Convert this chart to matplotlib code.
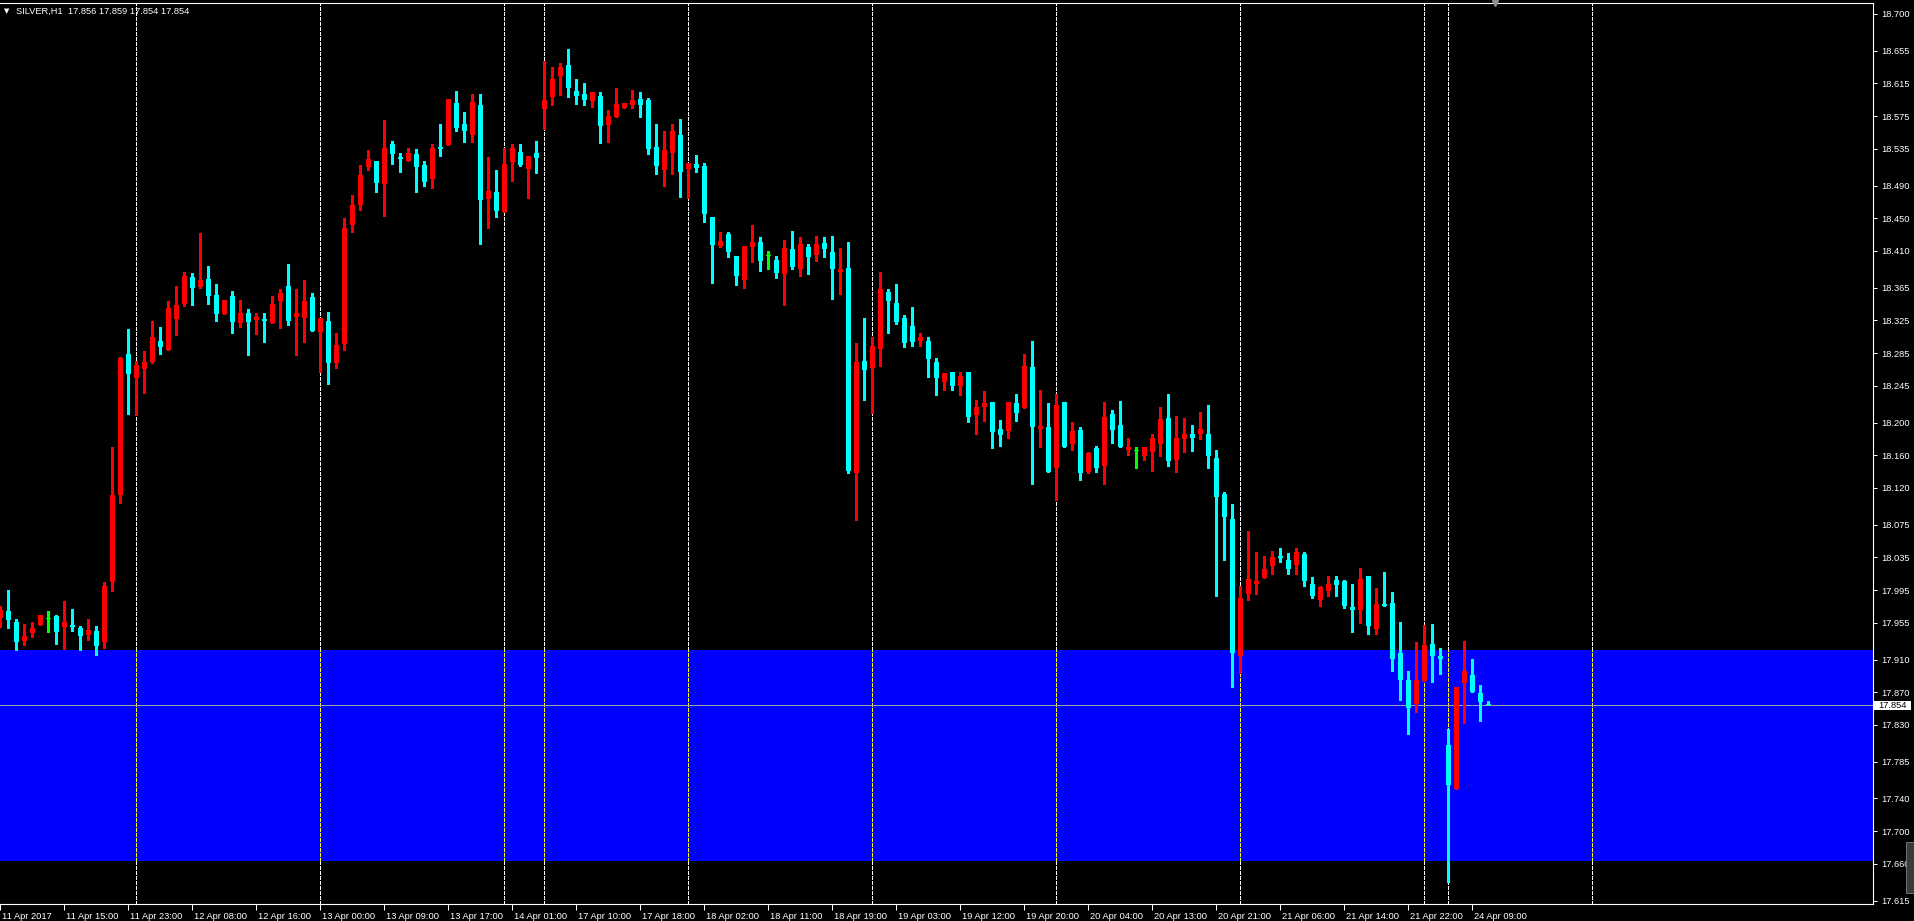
import matplotlib.pyplot as plt
from matplotlib.patches import Rectangle
import matplotlib.transforms as mtransforms
import numpy as np

plt.rcParams['font.family'] = ['Liberation Sans', 'DejaVu Sans']
FS = 6.7

symbol = "SILVER,H1"

# hourly OHLC, bar 0 = 11 Apr 2017 07:00
opens = [
    17.961, 17.969, 17.956, 17.933, 17.943, 17.952, 17.960, 17.963, 17.950, 17.952,
    17.949, 17.940, 17.945, 17.932, 18.005, 18.111, 18.284, 18.255, 18.266, 18.274,
    18.300, 18.289, 18.327, 18.345, 18.378, 18.366, 18.376, 18.356, 18.333, 18.355,
    18.322, 18.334, 18.326, 18.327, 18.322, 18.349, 18.367, 18.329, 18.328, 18.354,
    18.311, 18.324, 18.273, 18.296, 18.442, 18.466, 18.513, 18.520, 18.492, 18.541,
    18.525, 18.520, 18.529, 18.515, 18.498, 18.537, 18.540, 18.591, 18.565, 18.552,
    18.589, 18.474, 18.482, 18.458, 18.519, 18.531, 18.510, 18.530, 18.584, 18.598,
    18.624, 18.638, 18.606, 18.602, 18.594, 18.600, 18.564, 18.574, 18.585, 18.589,
    18.596, 18.595, 18.537, 18.509, 18.530, 18.552, 18.510, 18.516, 18.514, 18.452,
    18.416, 18.431, 18.404, 18.374, 18.415, 18.421, 18.404, 18.399, 18.382, 18.412,
    18.388, 18.415, 18.405, 18.420, 18.409, 18.384, 18.389, 18.138, 18.275, 18.267,
    18.290, 18.360, 18.346, 18.328, 18.318, 18.300, 18.300, 18.274, 18.250, 18.262,
    18.245, 18.262, 18.209, 18.219, 18.225, 18.192, 18.190, 18.224, 18.218, 18.268,
    18.192, 18.195, 18.144, 18.225, 18.174, 18.191, 18.139, 18.169, 18.147, 18.210,
    18.197, 18.166, 18.165, 18.159, 18.164, 18.174, 18.206, 18.154, 18.180, 18.186,
    18.186, 18.186, 18.157, 18.113, 18.082, 17.914, 17.990, 18.002, 18.010, 18.024,
    18.037, 18.032, 18.026, 18.039, 18.002, 17.983, 17.994, 18.007, 18.006, 17.974,
    17.971, 18.012, 17.947, 17.978, 17.979, 17.918, 17.885, 17.856, 17.884, 17.929,
    17.914, 17.805, 17.752, 17.881, 17.891, 17.869, 17.856]
highs = [
    17.975, 17.995, 17.960, 17.954, 17.956, 17.965, 17.969, 17.965, 17.982, 17.972,
    17.951, 17.960, 17.951, 18.005, 18.170, 18.280, 18.315, 18.275, 18.288, 18.324,
    18.317, 18.349, 18.367, 18.384, 18.383, 18.432, 18.392, 18.370, 18.350, 18.361,
    18.350, 18.339, 18.334, 18.334, 18.355, 18.363, 18.394, 18.363, 18.374, 18.358,
    18.328, 18.335, 18.310, 18.450, 18.478, 18.515, 18.534, 18.520, 18.570, 18.545,
    18.530, 18.536, 18.535, 18.520, 18.541, 18.565, 18.596, 18.606, 18.580, 18.602,
    18.602, 18.525, 18.509, 18.536, 18.541, 18.541, 18.526, 18.545, 18.642, 18.635,
    18.640, 18.657, 18.620, 18.616, 18.605, 18.605, 18.582, 18.609, 18.591, 18.607,
    18.605, 18.597, 18.565, 18.557, 18.565, 18.571, 18.518, 18.527, 18.518, 18.452,
    18.433, 18.433, 18.404, 18.416, 18.442, 18.427, 18.410, 18.404, 18.423, 18.434,
    18.427, 18.419, 18.428, 18.427, 18.428, 18.414, 18.421, 18.297, 18.328, 18.305,
    18.384, 18.363, 18.370, 18.332, 18.341, 18.310, 18.305, 18.279, 18.261, 18.262,
    18.262, 18.262, 18.228, 18.239, 18.225, 18.203, 18.225, 18.235, 18.284, 18.300,
    18.240, 18.224, 18.235, 18.225, 18.201, 18.195, 18.164, 18.171, 18.225, 18.215,
    18.226, 18.181, 18.170, 18.170, 18.186, 18.219, 18.235, 18.208, 18.206, 18.197,
    18.213, 18.222, 18.166, 18.115, 18.100, 18.000, 18.067, 18.042, 18.037, 18.043,
    18.046, 18.040, 18.046, 18.042, 18.011, 18.000, 18.012, 18.012, 18.007, 18.002,
    18.022, 18.012, 17.997, 18.017, 17.993, 17.956, 17.896, 17.932, 17.952, 17.954,
    17.924, 17.825, 17.877, 17.933, 17.911, 17.879, 17.859]
lows = [
    17.950, 17.949, 17.922, 17.928, 17.938, 17.952, 17.944, 17.929, 17.923, 17.945,
    17.922, 17.934, 17.916, 17.924, 17.994, 18.102, 18.210, 18.209, 18.236, 18.273,
    18.284, 18.289, 18.307, 18.343, 18.344, 18.365, 18.345, 18.324, 18.333, 18.310,
    18.317, 18.283, 18.308, 18.299, 18.322, 18.316, 18.319, 18.283, 18.299, 18.312,
    18.262, 18.247, 18.267, 18.289, 18.433, 18.460, 18.509, 18.482, 18.453, 18.517,
    18.507, 18.520, 18.482, 18.489, 18.487, 18.526, 18.540, 18.557, 18.543, 18.543,
    18.419, 18.438, 18.452, 18.458, 18.496, 18.514, 18.475, 18.505, 18.559, 18.589,
    18.601, 18.598, 18.590, 18.589, 18.586, 18.542, 18.543, 18.574, 18.585, 18.585,
    18.574, 18.529, 18.504, 18.489, 18.504, 18.476, 18.475, 18.507, 18.445, 18.371,
    18.415, 18.403, 18.368, 18.365, 18.396, 18.385, 18.388, 18.377, 18.344, 18.388,
    18.379, 18.382, 18.398, 18.403, 18.351, 18.357, 18.138, 18.081, 18.228, 18.212,
    18.269, 18.310, 18.321, 18.292, 18.294, 18.294, 18.256, 18.234, 18.240, 18.240,
    18.234, 18.201, 18.186, 18.202, 18.169, 18.171, 18.181, 18.202, 18.218, 18.125,
    18.170, 18.139, 18.105, 18.170, 18.167, 18.130, 18.138, 18.139, 18.125, 18.175,
    18.170, 18.160, 18.144, 18.154, 18.141, 18.159, 18.147, 18.139, 18.164, 18.165,
    18.180, 18.144, 17.988, 18.032, 17.876, 17.893, 17.983, 17.990, 18.010, 18.015,
    18.029, 18.015, 18.015, 18.000, 17.985, 17.975, 17.988, 17.988, 17.973, 17.944,
    17.955, 17.941, 17.941, 17.975, 17.896, 17.861, 17.819, 17.846, 17.884, 17.882,
    17.892, 17.638, 17.752, 17.832, 17.870, 17.835, 17.854]
closes = [
    17.971, 17.958, 17.932, 17.939, 17.949, 17.965, 17.960, 17.944, 17.956, 17.950,
    17.939, 17.946, 17.927, 18.000, 18.111, 18.279, 18.259, 18.270, 18.274, 18.305,
    18.293, 18.340, 18.344, 18.379, 18.365, 18.375, 18.355, 18.333, 18.350, 18.323,
    18.334, 18.323, 18.329, 18.324, 18.345, 18.358, 18.324, 18.334, 18.349, 18.312,
    18.328, 18.273, 18.295, 18.438, 18.466, 18.503, 18.523, 18.493, 18.536, 18.529,
    18.523, 18.530, 18.513, 18.494, 18.536, 18.535, 18.596, 18.560, 18.557, 18.592,
    18.472, 18.483, 18.459, 18.516, 18.536, 18.515, 18.526, 18.524, 18.595, 18.620,
    18.635, 18.609, 18.600, 18.595, 18.605, 18.563, 18.575, 18.590, 18.591, 18.595,
    18.589, 18.535, 18.514, 18.534, 18.557, 18.507, 18.518, 18.511, 18.455, 18.417,
    18.422, 18.409, 18.379, 18.416, 18.421, 18.398, 18.404, 18.383, 18.414, 18.390,
    18.419, 18.403, 18.419, 18.412, 18.388, 18.388, 18.141, 18.274, 18.264, 18.294,
    18.363, 18.349, 18.323, 18.297, 18.299, 18.305, 18.278, 18.254, 18.261, 18.245,
    18.257, 18.207, 18.219, 18.224, 18.189, 18.185, 18.225, 18.212, 18.269, 18.195,
    18.196, 18.139, 18.221, 18.170, 18.190, 18.138, 18.163, 18.144, 18.207, 18.191,
    18.170, 18.170, 18.165, 18.170, 18.181, 18.204, 18.153, 18.181, 18.186, 18.181,
    18.192, 18.159, 18.109, 18.084, 17.918, 17.985, 18.008, 18.006, 18.021, 18.035,
    18.034, 18.021, 18.042, 18.006, 17.988, 17.999, 18.002, 18.001, 17.975, 17.971,
    18.008, 17.951, 17.978, 17.975, 17.911, 17.885, 17.851, 17.885, 17.928, 17.914,
    17.911, 17.756, 17.877, 17.896, 17.870, 17.858, 17.854]

zone_top = 17.922
zone_bottom = 17.664

separator_bars = [17, 40, 63, 68, 86, 109, 132, 155, 178, 181, 199]

xtick_bars = [0, 8, 16, 24, 32, 40, 48, 56, 64, 72, 80, 88,
              96, 104, 112, 120, 128, 136, 144, 152, 160, 168, 176, 184]
xtick_labels = ["11 Apr 2017", "11 Apr 15:00", "11 Apr 23:00", "12 Apr 08:00",
                "12 Apr 16:00", "13 Apr 00:00", "13 Apr 09:00", "13 Apr 17:00",
                "14 Apr 01:00", "17 Apr 10:00", "17 Apr 18:00", "18 Apr 02:00",
                "18 Apr 11:00", "18 Apr 19:00", "19 Apr 03:00", "19 Apr 12:00",
                "19 Apr 20:00", "20 Apr 04:00", "20 Apr 13:00", "20 Apr 21:00",
                "21 Apr 06:00", "21 Apr 14:00", "21 Apr 22:00", "24 Apr 09:00"]

ytick_values = [18.700, 18.655, 18.615, 18.575, 18.535, 18.490, 18.450, 18.410,
                18.365, 18.325, 18.285, 18.245, 18.200, 18.160, 18.120, 18.075,
                18.035, 17.995, 17.955, 17.910, 17.870, 17.830, 17.785, 17.740,
                17.700, 17.660, 17.615]

W, H = 1915, 921
fig = plt.figure(figsize=(W / 100, H / 100), dpi=100, facecolor='black')
ax = fig.add_axes([0, 17 / H, 1873 / W, 901 / H])
ax.set_facecolor('black')

o = np.array(opens)
h = np.array(highs)
l = np.array(lows)
c = np.array(closes)
x = np.arange(len(o))

y_lo, y_hi = 17.6109, 18.7134
ax.set_xlim(-0.04, 234.1)
ax.set_ylim(y_lo, y_hi)

# zone rectangle
ax.axhspan(zone_bottom, zone_top, color='#0000ff', lw=0, zorder=0)

# day separators: white on black, yellow where they cross the blue zone
dash = (0, (2.9, 1.9))
ax.vlines(separator_bars, zone_top, y_hi, color='white', lw=0.75,
          linestyles=dash, zorder=1, antialiased=False)
ax.vlines(separator_bars, y_lo, zone_bottom, color='white', lw=0.75,
          linestyles=dash, zorder=1, antialiased=False)
ax.vlines(separator_bars, zone_bottom, zone_top, color='yellow', lw=0.75,
          linestyles=dash, zorder=1, antialiased=False)

# last price line
ax.axhline(c[-1], color='#a0a0a0', lw=0.7, zorder=1.2, antialiased=False)

# candles
cols = np.where(c > o, '#ff0000', np.where(c < o, '#00ffff', '#00ff00'))
ax.vlines(x, l, h, colors=cols, lw=0.8, zorder=2, antialiased=False)
body_lo = np.minimum(o, c)
body_h = np.maximum(np.abs(c - o), 0.0012)
ax.bar(x, body_h, bottom=body_lo, width=0.62, color=cols, lw=0, zorder=3,
       antialiased=False)

# axes styling
ax.spines['left'].set_visible(False)
for side in ['right', 'bottom', 'top']:
    ax.spines[side].set_color('white')
    ax.spines[side].set_linewidth(0.8)

ax.yaxis.tick_right()
ax.set_yticks(ytick_values)
ax.set_yticklabels([f"{v:.3f}" for v in ytick_values])
ax.tick_params(axis='y', colors='white', labelcolor='white', length=3,
               width=0.72, labelsize=FS, pad=3)

ax.set_xticks(xtick_bars)
ax.set_xticklabels(xtick_labels)
ax.tick_params(axis='x', colors='white', labelcolor='white', length=4,
               width=0.72, labelsize=FS, pad=1.5)
shift = mtransforms.ScaledTranslation(2 / 100, 0, fig.dpi_scale_trans)
for lbl in ax.get_xticklabels():
    lbl.set_horizontalalignment('left')
    lbl.set_transform(lbl.get_transform() + shift)

# price box on the right axis
trans = mtransforms.blended_transform_factory(fig.transFigure, ax.transData)
ax.add_patch(Rectangle((1874 / W, c[-1] - 0.0054), 37 / W, 0.0108,
                       transform=trans, facecolor='white', edgecolor='none',
                       clip_on=False, zorder=5))
ax.text(1878 / W, c[-1], f"{c[-1]:.3f}", transform=trans, color='black',
        fontsize=FS, ha='left', va='center', zorder=6, clip_on=False)

# header
fig.text(4 / W, 1 - 11.5 / H, "\u25bc", color='white', fontsize=5,
         family='DejaVu Sans', va='center', ha='left')
fig.text(16 / W, 1 - 11.5 / H,
         f"{symbol}  {o[-1]:.3f} {h[-1]:.3f} {l[-1]:.3f} {c[-1]:.3f}",
         color='white', fontsize=FS, va='center', ha='left')

# chart shift marker
ax.plot([1495 / 1873], [1.0], marker='v', ms=5, color='#909090',
        transform=ax.transAxes, clip_on=False, zorder=6)

# scroll widget at the right edge
fig.patches.append(Rectangle((1906 / W, 1 - 893 / H), 9 / W, 51 / H,
                             transform=fig.transFigure, facecolor='#3a3a3a',
                             edgecolor='#808080', lw=0.6))

fig.savefig('out.png', dpi=100, facecolor='black')
